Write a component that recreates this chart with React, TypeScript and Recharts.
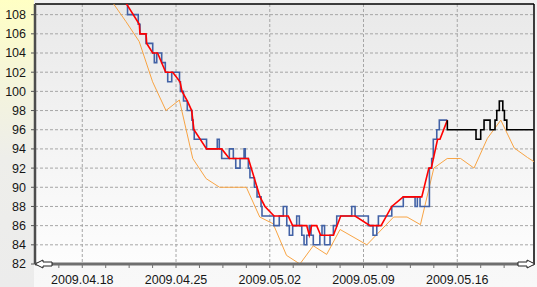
import { LineChart, Line, XAxis, YAxis, CartesianGrid, ReferenceLine } from "recharts";

// x = days after 2009.04.18
const weekDays = [0, 7, 14, 21, 28];
const weekLabels = ["2009.04.18", "2009.04.25", "2009.05.02", "2009.05.09", "2009.05.16"];
const minorDays = [-1.75, 1.75, 3.5, 5.25, 8.75, 10.5, 12.25, 15.75, 17.5, 19.25, 22.75, 24.5, 26.25, 29.75, 31.5, 33.25];
const yTicks = [82, 84, 86, 88, 90, 92, 94, 96, 98, 100, 102, 104, 106, 108];

const xDomain: [number, number] = [-3.53, 33.73];
const yDomain: [number, number] = [82, 109.11];

// actual price, stepped
const bluePts: [number, number][] = [
  [2.0, 110], [3.38, 108], [4.18, 107], [4.31, 106], [4.76, 105], [5.26, 104], [5.38, 103], [5.56, 104],
  [5.93, 103], [6.2, 102], [6.38, 101], [6.68, 102], [7.26, 101], [7.33, 100], [7.56, 99], [7.84, 98],
  [8.19, 97], [8.27, 96], [8.36, 95], [9.28, 94], [10.08, 95], [10.23, 94], [10.41, 93], [10.98, 94],
  [11.28, 93], [11.46, 92], [11.78, 93], [12.08, 94], [12.17, 93], [12.4, 92], [12.52, 91], [12.85, 90],
  [13.05, 89], [13.35, 88], [13.42, 87], [14.3, 86], [14.71, 87], [15.01, 88], [15.27, 86], [15.46, 85],
  [15.71, 86], [16.01, 87], [16.21, 86], [16.39, 85], [16.56, 84], [16.76, 85], [16.95, 86], [17.08, 85],
  [17.25, 84], [17.74, 85], [17.9, 86], [18.09, 84], [18.5, 85], [18.75, 86], [19.0, 87], [20.12, 88],
  [20.37, 87], [21.36, 86], [21.71, 85], [21.99, 86], [22.11, 87], [23.11, 88], [23.97, 89], [24.85, 88],
  [25.02, 89], [25.22, 88], [25.92, 92], [26.09, 93], [26.21, 95], [26.47, 96], [26.66, 97], [27.26, 97],
];

// smoothed price
const redPts: [number, number][] = [
  [3.13, 109.5], [4.26, 107], [4.31, 106], [4.76, 106], [4.81, 105], [5.26, 104], [5.62, 104], [6.23, 102],
  [6.75, 102], [7.3, 101], [7.45, 100], [7.84, 99], [8.17, 98], [8.34, 96], [9.28, 94], [10.41, 94],
  [10.98, 93], [12.4, 93], [13.27, 89], [13.64, 88], [14.32, 87], [15.38, 87], [15.71, 86], [16.76, 86],
  [16.95, 85], [17.13, 86], [17.5, 86], [17.8, 85], [18.75, 85], [19.3, 87], [20.37, 87], [21.49, 86],
  [22.31, 86], [23.11, 88], [23.97, 89], [25.35, 89], [25.88, 92], [26.06, 92], [26.53, 95], [26.71, 95],
  [27.26, 97],
];

// daily average
const orangePts: [number, number][] = [
  [1.25, 111.3], [2.25, 109.3], [3.25, 107.3], [4.25, 105.2], [5.25, 101.0], [6.25, 98.0], [7.25, 99.1],
  [8.25, 93.0], [9.25, 90.9], [10.25, 90.0], [11.25, 90.0], [12.25, 90.0], [13.25, 86.9], [14.25, 86.2],
  [15.25, 82.9], [16.25, 82.0], [17.25, 83.9], [18.25, 83.0], [19.25, 85.6], [21.25, 84.0], [23.25, 86.9],
  [24.25, 86.9], [25.25, 86.1], [26.25, 92.0], [27.25, 93.0], [28.25, 93.0], [29.25, 92.0], [30.25, 95.1],
  [31.25, 97.0], [32.25, 94.1], [33.25, 93.1], [34.25, 92.2],
];

// forecast, stepped
const blackPts: [number, number][] = [
  [27.26, 97], [27.26, 96], [29.4, 95], [29.75, 96], [30.0, 97], [30.45, 96], [30.82, 97], [30.95, 98],
  [31.14, 99], [31.4, 98], [31.52, 97], [31.7, 96], [33.7, 96],
];

const toRows = (pts: [number, number][]) => pts.map(([d, v]) => ({ d, v }));

const font = "'Liberation Sans', Arial, sans-serif";

const XTick = (props: any) => {
  const { x, y, payload } = props;
  const i = weekDays.indexOf(payload.value);
  if (i < 0) return null;
  return (
    <text x={x} y={y} dy={9} textAnchor="middle" fontSize={12.5} fontFamily={font} fill="#161616">
      {weekLabels[i]}
    </text>
  );
};

const AxisArrows = (props: any) => {
  const vb = props.viewBox || { x: 35, y: 264, width: 499 };
  const { x, y, width } = vb;
  const r = x + width + 1;
  const left = `${x},${y} ${x + 8},${y - 4} ${x + 8},${y - 2} ${x + 17},${y - 2} ${x + 17},${y + 2} ${x + 8},${y + 2} ${x + 8},${y + 4}`;
  const right = `${r},${y} ${r - 8},${y - 4} ${r - 8},${y - 2} ${r - 17},${y - 2} ${r - 17},${y + 2} ${r - 8},${y + 2} ${r - 8},${y + 4}`;
  return (
    <g>
      <polygon points={left} fill="#fff" stroke="#222" strokeWidth={1} />
      <polygon points={right} fill="#fff" stroke="#222" strokeWidth={1} />
    </g>
  );
};

export default function App() {
  return (
    <div
      style={{
        width: 537,
        height: 287,
        background:
          "linear-gradient(to bottom, #ffffc4 0%, #f4f4dc 30%, #eeeeea 55%, #ececec 100%) 0 0 / 34px 100% no-repeat, linear-gradient(to bottom, #f1f1f1, #f8f8f8)",
      }}
    >
      <style>{"body{margin:0}"}</style>
      <LineChart width={537} height={287} margin={{ top: 4, right: 3, left: 0, bottom: 0 }}>
        <defs>
          <linearGradient id="plotBg" x1="0" y1="0" x2="0" y2="1">
            <stop offset="0%" stopColor="#e9e9e9" />
            <stop offset="100%" stopColor="#fdfdfd" />
          </linearGradient>
        </defs>
        <CartesianGrid
          stroke="#a6a6a6"
          strokeDasharray="3 2"
          fill="url(#plotBg)"
          horizontalValues={yTicks.slice(1)}
          verticalValues={weekDays}
        />
        <XAxis
          dataKey="d"
          type="number"
          domain={xDomain}
          allowDataOverflow
          ticks={[...weekDays, ...minorDays].sort((a, b) => a - b)}
          interval={0}
          height={23}
          tickSize={4}
          tickMargin={7}
          tick={<XTick />}
          tickLine={{ stroke: "#707070" }}
          axisLine={{ stroke: "#6e6e6e", strokeWidth: 3 }}
          label={<AxisArrows />}
        />
        <YAxis
          type="number"
          domain={yDomain}
          allowDataOverflow
          ticks={yTicks}
          interval={0}
          width={35}
          tickSize={4}
          tickMargin={5}
          tick={{ fontSize: 12.5, fontFamily: font, fill: "#161616" }}
          tickLine={{ stroke: "#555" }}
          axisLine={{ stroke: "#4d4d4d", strokeWidth: 2.5 }}
        />
        <ReferenceLine y={yDomain[1]} stroke="#000" strokeWidth={1.5} />
        <ReferenceLine x={xDomain[1]} stroke="#000" strokeWidth={1.5} />
        <Line data={toRows(orangePts)} dataKey="v" type="linear" stroke="#f8a444" strokeWidth={1} dot={false} activeDot={false} isAnimationActive={false} />
        <Line data={toRows(bluePts)} dataKey="v" type="stepAfter" stroke="#4262a6" strokeWidth={1.6} dot={false} activeDot={false} isAnimationActive={false} />
        <Line data={toRows(redPts)} dataKey="v" type="linear" stroke="#ff0000" strokeWidth={1.6} dot={false} activeDot={false} isAnimationActive={false} />
        <Line data={toRows(blackPts)} dataKey="v" type="stepAfter" stroke="#000" strokeWidth={1.6} dot={false} activeDot={false} isAnimationActive={false} />
      </LineChart>
    </div>
  );
}
